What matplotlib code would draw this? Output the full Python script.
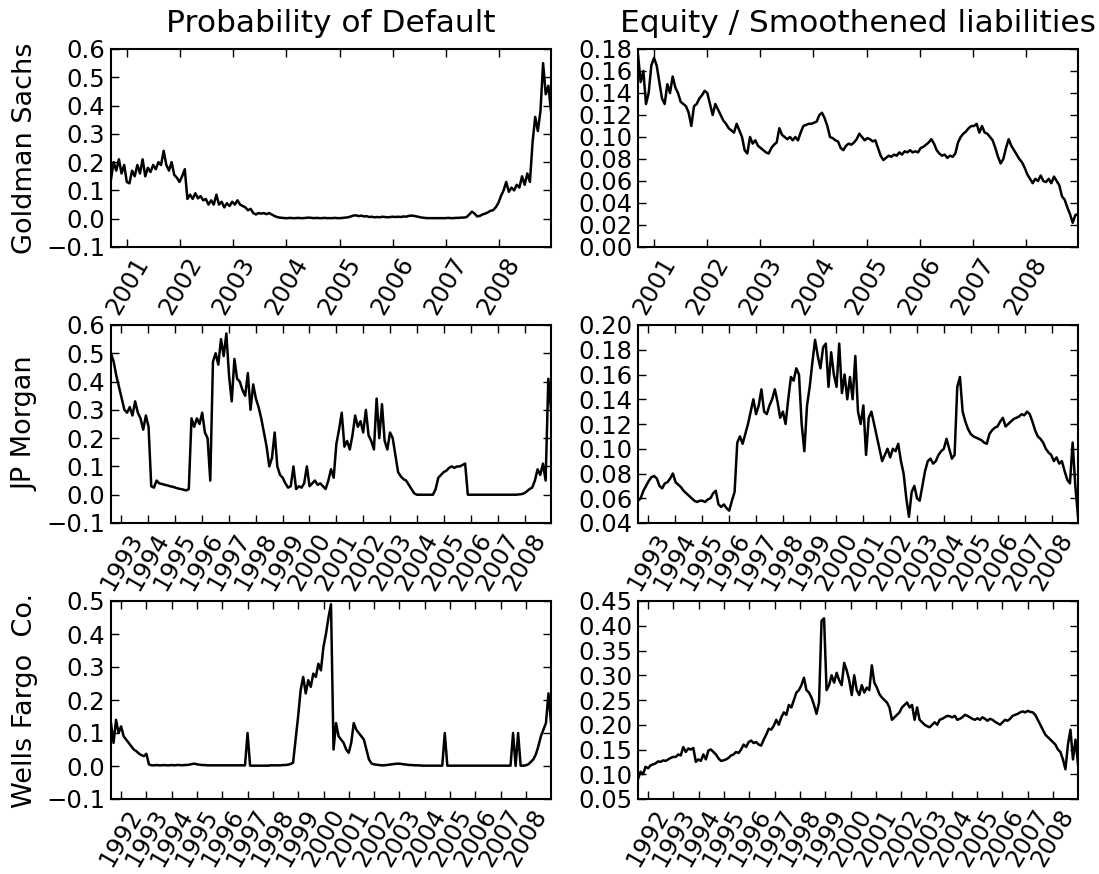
import numpy as np
import pandas as pd
import matplotlib
matplotlib.use("Agg")
import matplotlib.pyplot as plt
import matplotlib.dates as mdates
from matplotlib.ticker import FuncFormatter, MultipleLocator

# ---------------- data ----------------
col_titles = ["Probability of Default", "Equity / Smoothened liabilities"]
row_labels = ["Goldman Sachs", "JP Morgan", "Wells Fargo  Co."]

gs_start, gs_end = "2000-09-12", "2008-12-24"
jpm_start, jpm_end = "1992-08-15", "2008-12-24"
wf_start, wf_end = "1991-08-10", "2008-12-26"

gs_pd = [0.14, 0.20, 0.17, 0.21, 0.16, 0.19, 0.13, 0.125, 0.17, 0.15,
         0.19, 0.16, 0.21, 0.15, 0.18, 0.165, 0.19, 0.175, 0.20, 0.19,
         0.24, 0.19, 0.17, 0.20, 0.155, 0.145, 0.13, 0.15, 0.175, 0.07,
         0.085, 0.07, 0.09, 0.072, 0.08, 0.065, 0.07, 0.05, 0.065, 0.05,
         0.085, 0.05, 0.06, 0.04, 0.055, 0.045, 0.06, 0.05, 0.065, 0.05,
         0.045, 0.04, 0.03, 0.035, 0.02, 0.015, 0.02, 0.018, 0.02, 0.016,
         0.02, 0.015, 0.01, 0.006, 0.004, 0.003, 0.002, 0.002, 0.003, 0.002,
         0.002, 0.003, 0.002, 0.002, 0.003, 0.004, 0.003, 0.002, 0.003, 0.002,
         0.002, 0.003, 0.002, 0.002, 0.002, 0.003, 0.002, 0.002, 0.003, 0.004,
         0.005, 0.008, 0.011, 0.012, 0.009, 0.011, 0.008, 0.009, 0.006, 0.007,
         0.005, 0.006, 0.005, 0.007, 0.006, 0.005, 0.006, 0.007, 0.006, 0.007,
         0.006, 0.008, 0.007, 0.010, 0.011, 0.010, 0.008, 0.006, 0.004, 0.003,
         0.002, 0.002, 0.002, 0.002, 0.002, 0.002, 0.002, 0.002, 0.003, 0.002,
         0.002, 0.003, 0.003, 0.004, 0.004, 0.006, 0.015, 0.025, 0.018, 0.008,
         0.010, 0.015, 0.018, 0.022, 0.028, 0.030, 0.040, 0.055, 0.080, 0.100,
         0.130, 0.095, 0.110, 0.100, 0.120, 0.110, 0.150, 0.120, 0.160, 0.130,
         0.270, 0.360, 0.310, 0.380, 0.550, 0.440, 0.470, 0.380]

gs_eq = [0.175, 0.15, 0.16, 0.13, 0.14, 0.165, 0.172, 0.165, 0.15, 0.135,
         0.13, 0.148, 0.14, 0.155, 0.145, 0.14, 0.132, 0.13, 0.128, 0.122,
         0.11, 0.128, 0.13, 0.135, 0.138, 0.142, 0.14, 0.13, 0.12, 0.13,
         0.125, 0.12, 0.115, 0.112, 0.108, 0.106, 0.104, 0.112, 0.106, 0.10,
         0.088, 0.085, 0.10, 0.094, 0.097, 0.092, 0.09, 0.088, 0.086, 0.085,
         0.09, 0.093, 0.095, 0.108, 0.102, 0.10, 0.098, 0.10, 0.097, 0.10,
         0.097, 0.104, 0.11, 0.111, 0.112, 0.112, 0.113, 0.114, 0.12, 0.122,
         0.117, 0.11, 0.10, 0.099, 0.097, 0.096, 0.09, 0.088, 0.092, 0.094,
         0.093, 0.095, 0.098, 0.103, 0.10, 0.097, 0.099, 0.098, 0.096, 0.097,
         0.09, 0.083, 0.079, 0.081, 0.083, 0.082, 0.084, 0.083, 0.086, 0.084,
         0.087, 0.086, 0.088, 0.086, 0.087, 0.086, 0.09, 0.091, 0.093, 0.095,
         0.098, 0.094, 0.088, 0.085, 0.083, 0.084, 0.081, 0.083, 0.082, 0.085,
         0.095, 0.10, 0.103, 0.105, 0.108, 0.11, 0.11, 0.112, 0.104, 0.11,
         0.104, 0.103, 0.10, 0.097, 0.09, 0.082, 0.076, 0.08, 0.09, 0.098,
         0.092, 0.088, 0.084, 0.08, 0.077, 0.072, 0.066, 0.062, 0.058, 0.062,
         0.06, 0.065, 0.06, 0.059, 0.062, 0.058, 0.064, 0.06, 0.056, 0.046,
         0.043, 0.036, 0.03, 0.022, 0.029, 0.03]

jpm_pd = [0.50, 0.47, 0.42, 0.38, 0.34, 0.30, 0.29, 0.31, 0.28, 0.33,
          0.29, 0.27, 0.23, 0.28, 0.24, 0.03, 0.025, 0.05, 0.04, 0.038,
          0.035, 0.033, 0.03, 0.028, 0.025, 0.022, 0.02, 0.018, 0.015, 0.02,
          0.27, 0.24, 0.27, 0.25, 0.29, 0.22, 0.20, 0.05, 0.47, 0.50,
          0.46, 0.55, 0.49, 0.57, 0.42, 0.33, 0.48, 0.41, 0.40, 0.37,
          0.35, 0.43, 0.30, 0.39, 0.34, 0.31, 0.27, 0.22, 0.17, 0.10,
          0.13, 0.22, 0.10, 0.07, 0.06, 0.04, 0.025, 0.03, 0.10, 0.02,
          0.03, 0.025, 0.04, 0.10, 0.03, 0.04, 0.05, 0.035, 0.04, 0.03,
          0.02, 0.05, 0.09, 0.06, 0.18, 0.23, 0.29, 0.17, 0.19, 0.16,
          0.21, 0.28, 0.24, 0.26, 0.22, 0.30, 0.21, 0.19, 0.16, 0.34,
          0.20, 0.32, 0.19, 0.16, 0.22, 0.20, 0.14, 0.08, 0.065, 0.055,
          0.05, 0.035, 0.02, 0.005, 0.0, 0.0, 0.0, 0.0, 0.0, 0.0,
          0.0, 0.02, 0.06, 0.07, 0.08, 0.085, 0.095, 0.10, 0.095, 0.10,
          0.10, 0.105, 0.11, 0.0, 0.0, 0.0, 0.0, 0.0, 0.0, 0.0,
          0.0, 0.0, 0.0, 0.0, 0.0, 0.0, 0.0, 0.0, 0.0, 0.0,
          0.0, 0.0, 0.001, 0.002, 0.005, 0.012, 0.02, 0.025, 0.05, 0.09,
          0.07, 0.11, 0.05, 0.41, 0.30]

jpm_eq = [0.058, 0.06, 0.066, 0.07, 0.074, 0.077, 0.078, 0.076, 0.07, 0.068,
          0.072, 0.073, 0.076, 0.08, 0.073, 0.071, 0.069, 0.066, 0.064, 0.062,
          0.06, 0.058, 0.057, 0.058, 0.058, 0.057, 0.059, 0.06, 0.064, 0.066,
          0.055, 0.053, 0.055, 0.052, 0.05, 0.058, 0.065, 0.105, 0.11, 0.104,
          0.112, 0.12, 0.13, 0.14, 0.128, 0.135, 0.148, 0.13, 0.128, 0.135,
          0.14, 0.148, 0.138, 0.125, 0.13, 0.12, 0.14, 0.158, 0.155, 0.165,
          0.16, 0.12, 0.098, 0.135, 0.15, 0.17, 0.188, 0.175, 0.165, 0.182,
          0.185, 0.15, 0.178, 0.16, 0.15, 0.185, 0.145, 0.16, 0.14, 0.158,
          0.14, 0.175, 0.13, 0.12, 0.135, 0.095, 0.125, 0.13, 0.12, 0.11,
          0.10, 0.09, 0.095, 0.10, 0.093, 0.10, 0.098, 0.104, 0.09, 0.08,
          0.06, 0.045, 0.065, 0.07, 0.06, 0.058, 0.07, 0.082, 0.09, 0.092,
          0.088, 0.09, 0.095, 0.098, 0.10, 0.108, 0.10, 0.092, 0.095, 0.15,
          0.158, 0.13, 0.122, 0.116, 0.112, 0.11, 0.109, 0.108, 0.107, 0.105,
          0.104, 0.112, 0.115, 0.117, 0.118, 0.122, 0.125, 0.118, 0.12, 0.122,
          0.124, 0.125, 0.126, 0.128, 0.127, 0.13, 0.128, 0.122, 0.115, 0.11,
          0.108, 0.105, 0.10, 0.097, 0.095, 0.09, 0.093, 0.088, 0.09, 0.082,
          0.075, 0.072, 0.105, 0.07, 0.045]

wf_pd = [0.13, 0.07, 0.14, 0.10, 0.12, 0.09, 0.08, 0.07, 0.06, 0.05,
         0.045, 0.038, 0.033, 0.03, 0.037, 0.005, 0.002, 0.002, 0.003, 0.002,
         0.002, 0.003, 0.002, 0.002, 0.003, 0.002, 0.003, 0.003, 0.002, 0.003,
         0.003, 0.004, 0.006, 0.007, 0.005, 0.004, 0.003, 0.003, 0.002, 0.002,
         0.002, 0.002, 0.002, 0.002, 0.002, 0.002, 0.002, 0.002, 0.002, 0.002,
         0.002, 0.002, 0.002, 0.002, 0.10, 0.001, 0.001, 0.001, 0.001, 0.001,
         0.001, 0.001, 0.001, 0.002, 0.002, 0.002, 0.002, 0.002, 0.003, 0.003,
         0.004, 0.006, 0.01, 0.08, 0.15, 0.23, 0.27, 0.22, 0.26, 0.24,
         0.28, 0.27, 0.31, 0.29, 0.36, 0.40, 0.45, 0.49, 0.05, 0.13,
         0.09, 0.08, 0.07, 0.05, 0.04, 0.07, 0.13, 0.11, 0.10, 0.09,
         0.08, 0.05, 0.02, 0.008, 0.005, 0.004, 0.003, 0.002, 0.002, 0.003,
         0.004, 0.005, 0.006, 0.007, 0.007, 0.006, 0.005, 0.004, 0.003, 0.003,
         0.002, 0.002, 0.002, 0.001, 0.001, 0.001, 0.001, 0.001, 0.001, 0.001,
         0.001, 0.001, 0.10, 0.001, 0.001, 0.001, 0.001, 0.001, 0.001, 0.001,
         0.001, 0.001, 0.001, 0.001, 0.001, 0.001, 0.001, 0.001, 0.001, 0.001,
         0.001, 0.001, 0.001, 0.001, 0.001, 0.001, 0.001, 0.001, 0.001, 0.10,
         0.0, 0.10, 0.001, 0.001, 0.002, 0.005, 0.012, 0.02, 0.035, 0.06,
         0.09, 0.11, 0.13, 0.22, 0.13]

wf_eq = [0.09, 0.105, 0.10, 0.115, 0.112, 0.118, 0.12, 0.122, 0.126, 0.125,
         0.128, 0.127, 0.13, 0.133, 0.135, 0.135, 0.14, 0.138, 0.155, 0.145,
         0.152, 0.15, 0.153, 0.125, 0.13, 0.127, 0.14, 0.13, 0.148, 0.15,
         0.145, 0.14, 0.132, 0.127, 0.128, 0.13, 0.133, 0.138, 0.14, 0.145,
         0.143, 0.15, 0.16, 0.155, 0.165, 0.168, 0.163, 0.165, 0.16, 0.158,
         0.17, 0.18, 0.192, 0.19, 0.198, 0.21, 0.20, 0.215, 0.225, 0.22,
         0.24, 0.235, 0.25, 0.265, 0.27, 0.28, 0.295, 0.27, 0.265, 0.255,
         0.24, 0.222, 0.245, 0.41, 0.415, 0.27, 0.28, 0.30, 0.285, 0.305,
         0.29, 0.28, 0.325, 0.31, 0.29, 0.26, 0.30, 0.27, 0.26, 0.28,
         0.265, 0.275, 0.27, 0.32, 0.285, 0.275, 0.262, 0.255, 0.25, 0.245,
         0.235, 0.21, 0.215, 0.22, 0.225, 0.235, 0.24, 0.245, 0.235, 0.24,
         0.21, 0.235, 0.21, 0.205, 0.20, 0.197, 0.195, 0.20, 0.205, 0.20,
         0.21, 0.212, 0.215, 0.218, 0.217, 0.215, 0.218, 0.21, 0.212, 0.215,
         0.22, 0.218, 0.215, 0.212, 0.21, 0.213, 0.21, 0.215, 0.212, 0.208,
         0.212, 0.21, 0.206, 0.203, 0.20, 0.205, 0.21, 0.208, 0.212, 0.218,
         0.22, 0.222, 0.225, 0.227, 0.225, 0.228, 0.226, 0.225, 0.22, 0.21,
         0.20, 0.19, 0.18, 0.175, 0.17, 0.165, 0.16, 0.15, 0.145, 0.13,
         0.11, 0.16, 0.19, 0.13, 0.17, 0.12]

# y-axis settings per panel: (low, high, step, decimals)
y_specs = [[(-0.1, 0.6, 0.1, 1), (0.0, 0.18, 0.02, 2)],
           [(-0.1, 0.6, 0.1, 1), (0.04, 0.20, 0.02, 2)],
           [(-0.1, 0.5, 0.1, 1), (0.05, 0.45, 0.05, 2)]]

series = [[(gs_start, gs_end, gs_pd), (gs_start, gs_end, gs_eq)],
          [(jpm_start, jpm_end, jpm_pd), (jpm_start, jpm_end, jpm_eq)],
          [(wf_start, wf_end, wf_pd), (wf_start, wf_end, wf_eq)]]

# ---------------- figure ----------------
W, H = 1099, 874
fig = plt.figure(figsize=(W / 100, H / 100), dpi=100, facecolor="white")

col_x = [111, 638]
ax_w = 440
row_top = [49, 325, 601]
ax_h = 198

TICK_FS = 17.5
TITLE_FS = 22.5
LABEL_FS = 19.5

def fmt_factory(dec):
    def f(v, pos):
        s = f"{v:.{dec}f}"
        if s.startswith("-"):
            s = "\u2212" + s[1:]
        return s
    return f

for r in range(3):
    for c in range(2):
        rect = [col_x[c] / W, 1 - (row_top[r] + ax_h) / H, ax_w / W, ax_h / H]
        ax = fig.add_axes(rect)
        start, end, vals = series[r][c]
        dates = pd.date_range(start, end, periods=len(vals))
        ax.plot(dates, vals, color="black", lw=1.8)
        ax.set_xlim(dates[0], dates[-1])
        lo, hi, step, dec = y_specs[r][c]
        ax.set_ylim(lo, hi)
        ax.yaxis.set_major_locator(MultipleLocator(step))
        ax.yaxis.set_major_formatter(FuncFormatter(fmt_factory(dec)))
        ax.xaxis.set_major_locator(mdates.YearLocator())
        ax.xaxis.set_major_formatter(mdates.DateFormatter("%Y"))
        ax.tick_params(axis="both", which="major", direction="in", top=True,
                       right=True, length=6, width=1.0, labelsize=TICK_FS, pad=4)
        for lab in ax.get_xticklabels():
            lab.set_rotation(60)
            lab.set_ha("center")
        for sp in ax.spines.values():
            sp.set_linewidth(1.5)
        if r == 0:
            ax.set_title(col_titles[c], fontsize=TITLE_FS, pad=12)
        if c == 0:
            ax.set_ylabel(row_labels[r], fontsize=LABEL_FS, labelpad=6)

fig.savefig("out.png", dpi=100, facecolor="white")
